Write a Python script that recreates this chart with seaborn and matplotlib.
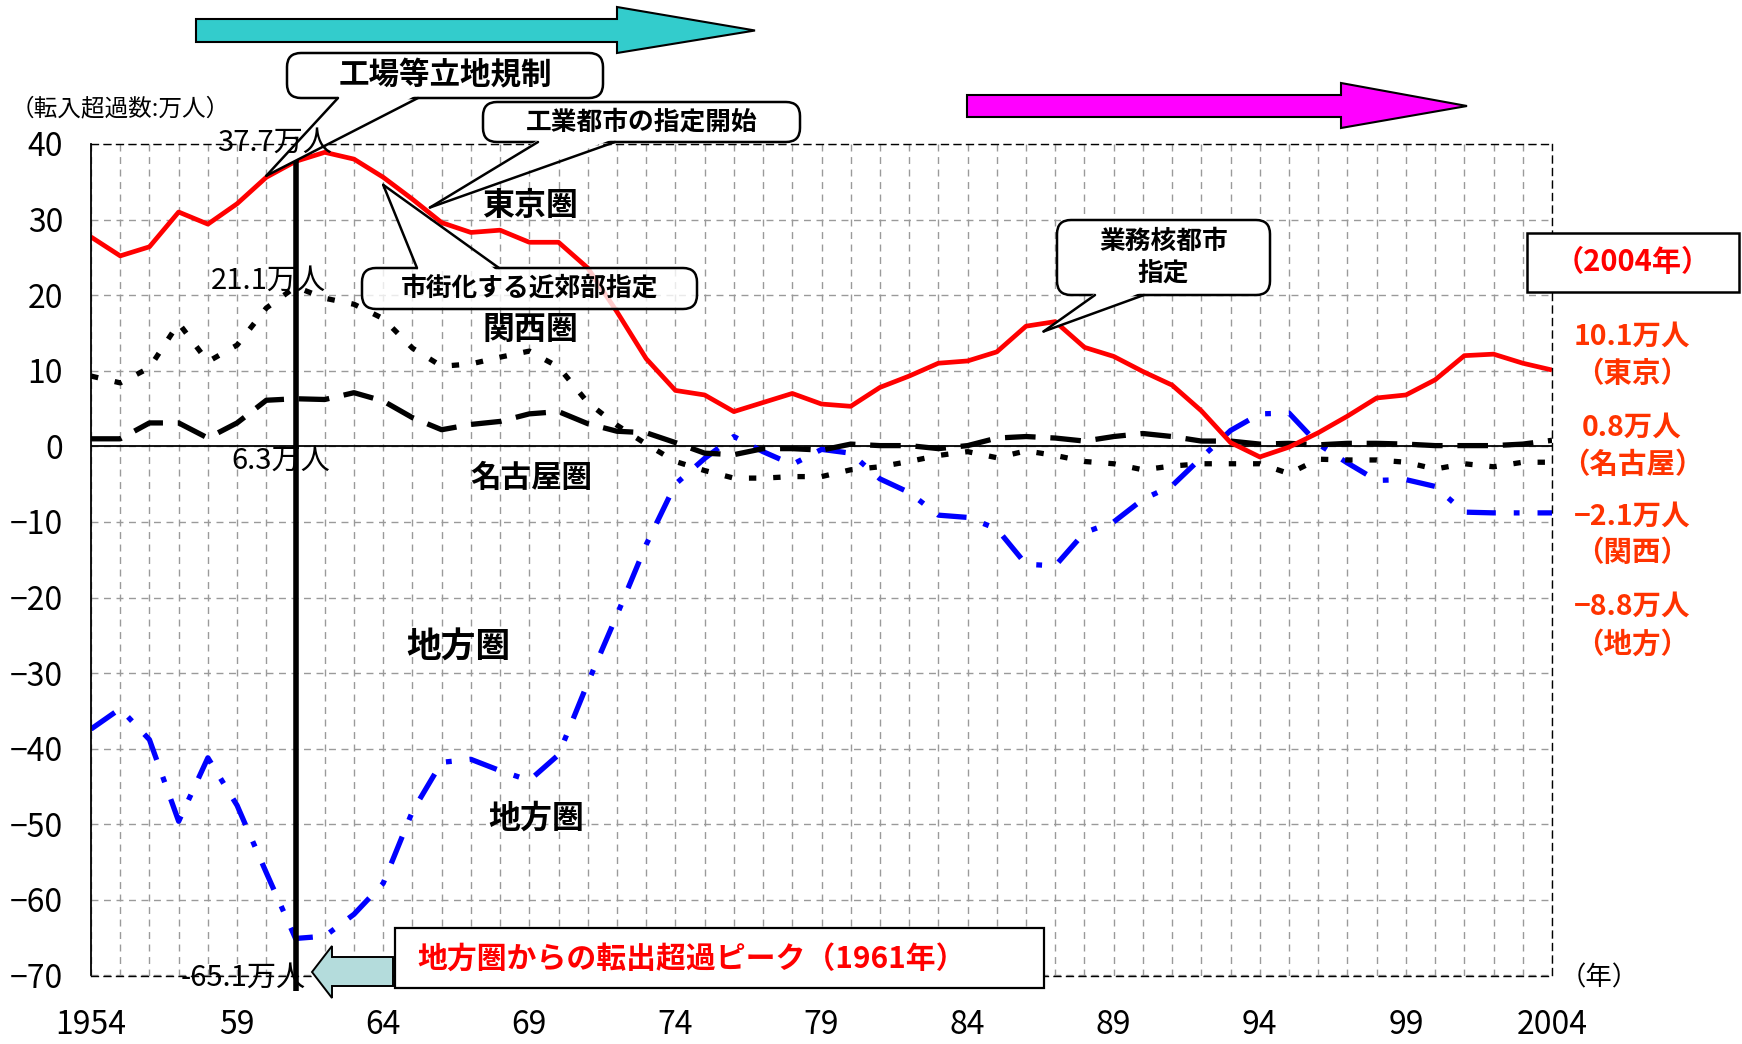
import numpy as np
import pandas as pd
import matplotlib
matplotlib.use("Agg")
import matplotlib.pyplot as plt
import seaborn as sns
from matplotlib.patches import FancyBboxPatch, Polygon, Rectangle
from matplotlib.lines import Line2D

# ---------------- data (万人) ----------------
years = list(range(1954, 2005))
tokyo = [27.7, 25.2, 26.4, 31.0, 29.4, 32.1, 35.6, 37.7, 38.9, 38.0,
         35.6, 32.7, 29.6, 28.3, 28.6, 27.0, 27.0, 23.6, 17.8, 11.6,
         7.4, 6.8, 4.6, 5.8, 7.0, 5.6, 5.3, 7.8, 9.3, 11.0,
         11.3, 12.5, 15.9, 16.5, 13.1, 11.9, 9.9, 8.1, 4.7, 0.5,
         -1.4, -0.1, 1.8, 4.0, 6.4, 6.8, 8.8, 12.0, 12.2, 11.0, 10.1]
kansai = [9.3, 8.4, 10.4, 16.3, 11.2, 13.4, 18.3, 21.1, 19.6, 18.8,
          16.9, 13.0, 10.6, 10.9, 11.8, 12.6, 10.5, 5.8, 2.8, 0.3,
          -2.0, -3.2, -4.2, -4.2, -4.0, -4.0, -3.1, -2.7, -2.0, -1.2,
          -0.7, -1.5, -0.6, -1.2, -2.0, -2.3, -3.1, -2.6, -2.3, -2.3,
          -2.3, -3.6, -1.7, -1.8, -1.8, -2.1, -3.0, -2.3, -2.7, -2.1, -2.1]
nagoya = [1.0, 1.0, 3.1, 3.1, 1.1, 3.1, 6.1, 6.3, 6.2, 7.1,
          6.0, 3.8, 2.2, 2.9, 3.3, 4.3, 4.6, 3.0, 2.0, 1.8,
          0.5, -0.9, -1.1, -0.3, -0.3, -0.5, 0.3, 0.1, 0.1, -0.3,
          0.1, 1.1, 1.3, 1.1, 0.7, 1.3, 1.7, 1.3, 0.7, 0.7,
          0.3, 0.4, 0.2, 0.4, 0.4, 0.3, 0.1, 0.1, 0.1, 0.3, 0.8]
chiho = [-37.4, -34.7, -38.8, -49.6, -41.2, -47.5, -56.4, -65.1, -64.8, -61.9,
         -57.8, -48.3, -41.8, -41.4, -42.9, -44.2, -40.8, -31.3, -22.3, -13.0,
         -5.0, -1.6, 1.3, -0.7, -2.4, -0.4, -0.9, -4.3, -6.1, -9.1,
         -9.4, -10.9, -15.6, -15.8, -11.4, -10.0, -7.0, -5.2, -1.5, 2.1,
         4.3, 4.4, 0.3, -2.2, -4.5, -4.4, -5.3, -8.7, -8.8, -8.8, -8.8]

x_tick_values = [1954, 1959, 1964, 1969, 1974, 1979, 1984, 1989, 1994, 1999, 2004]
x_tick_labels = ["1954", "59", "64", "69", "74", "79", "84", "89", "94", "99", "2004"]
y_tick_values = [40, 30, 20, 10, 0, -10, -20, -30, -40, -50, -60, -70]
y_tick_labels = ["40", "30", "20", "10", "0", "−10", "−20", "−30", "−40", "−50", "−60", "−70"]

df = pd.DataFrame({"year": years, "東京圏": tokyo, "関西圏": kansai,
                   "名古屋圏": nagoya, "地方圏": chiho})

sns.set_theme(style="white")
plt.rcParams["font.family"] = ["Noto Sans CJK JP", "DejaVu Sans"]
plt.rcParams["axes.unicode_minus"] = True

W, H = 1742, 1044
fig = plt.figure(figsize=(W / 100, H / 100), dpi=100)
L, R, T, B = 91, 1552, 144, 975.5
ax = fig.add_axes([L / W, 1 - B / H, (R - L) / W, (B - T) / H])

# grid
ax.set_xlim(1954, 2004)
ax.set_ylim(-70, 40)
ax.set_xticks(x_tick_values)
ax.set_xticks(years, minor=True)
ax.set_yticks(y_tick_values)
ax.grid(True, which="both", axis="x", color="#9a9a9a", lw=1.0, linestyle=(0, (5, 4)))
ax.grid(True, which="major", axis="y", color="#9a9a9a", lw=1.0, linestyle=(0, (5, 4)))
ax.set_axisbelow(True)
ax.axhline(0, color="black", lw=1.3, zorder=1.5)

# series
series = [
    ("地方圏", "#0000FF", 3.8, (5.5, 3.4, 1.1, 3.4)),
    ("関西圏", "black", 3.8, (1.4, 3.2)),
    ("名古屋圏", "black", 3.8, (5.8, 2.8)),
    ("東京圏", "#FF0000", 3.4, None),
]
for name, col, lw, dash in series:
    sns.lineplot(data=df, x="year", y=name, ax=ax, color=col, lw=lw, legend=False)
    ln = ax.lines[-1]
    ln.set_solid_capstyle("butt")
    if dash is not None:
        ln.set_dashes(dash)
        ln.set_dash_capstyle("butt")

# spines
for s in ["top", "right", "bottom"]:
    ax.spines[s].set_linestyle((0, (5, 4)))
    ax.spines[s].set_color("black")
    ax.spines[s].set_linewidth(1.0)
ax.spines["left"].set_color("black")
ax.spines["left"].set_linewidth(1.3)

tick_font = ["Noto Sans CJK JP", "DejaVu Sans"]
ax.set_xticklabels(x_tick_labels, fontsize=23, family=tick_font)
ax.set_yticklabels(y_tick_labels, fontsize=23, family=tick_font)
ax.tick_params(axis="x", which="both", length=0, pad=24, colors="black")
ax.tick_params(axis="y", length=0, pad=20, colors="black")
ax.set_xlabel("")
ax.set_ylabel("")

# ---------------- overlay in pixel coordinates ----------------
ov = fig.add_axes([0, 0, 1, 1], zorder=5)
ov.set_xlim(0, W)
ov.set_ylim(H, 0)
ov.axis("off")


def d2p(x, y):
    dx, dy = ax.transData.transform((x, y))
    return dx, H - dy


def callout(x0, y0, x1, y1, ba, bb, tip, text, size, fc=(1, 1, 1, 1), ty=None):
    box = FancyBboxPatch((x0, y0), x1 - x0, y1 - y0,
                         boxstyle="round,pad=0,rounding_size=14",
                         fc=fc, ec="black", lw=1.8, zorder=3)
    ov.add_patch(box)
    inward = 3 if tip[1] > y1 else -3
    by = ba[1]
    poly = Polygon([(ba[0] + 1.5, by - inward), tip, (bb[0] - 1.5, by - inward)],
                   closed=True, fc="white", ec="none", zorder=3.2)
    ov.add_patch(poly)
    ov.add_line(Line2D([ba[0], tip[0]], [ba[1], tip[1]], color="black", lw=1.8, zorder=3.4))
    ov.add_line(Line2D([bb[0], tip[0]], [bb[1], tip[1]], color="black", lw=1.8, zorder=3.4))
    ov.text((x0 + x1) / 2, (y0 + y1) / 2 if ty is None else ty, text, fontsize=size,
            fontweight="bold", ha="center", va="center", color="black", zorder=3.6,
            linespacing=1.25)


# big arrows at top
cyan = Polygon([(196, 19), (617, 19), (617, 7), (755, 30.5), (617, 53), (617, 42), (196, 42)],
               closed=True, fc="#33CCCC", ec="black", lw=1.5, zorder=2)
ov.add_patch(cyan)
mag = Polygon([(967, 95), (1341, 95), (1341, 83), (1467, 106), (1341, 128), (1341, 117), (967, 117)],
              closed=True, fc="#FF00FF", ec="black", lw=1.5, zorder=2)
ov.add_patch(mag)

# callouts
callout(287, 53, 603, 98, (338, 98), (418, 98), d2p(1960, 35.8), "工場等立地規制", 22)
callout(483, 102, 800, 142, (538, 142), (615, 142), d2p(1965.6, 31.6), "工業都市の指定開始", 18.5)
callout(362, 268, 697, 309, (417, 268), (499, 268), d2p(1964, 34.6), "市街化する近郊部指定", 18.5,
        fc=(1, 1, 1, 0.8))
callout(1057, 220, 1270, 295, (1095, 295), (1144, 295), d2p(1986.6, 15.2), "業務核都市\n指定", 18.5)

# value labels
ov.text(275, 143, "37.7万人", fontsize=21, ha="center", va="center", color="black", zorder=3.3)
ov.text(268, 281, "21.1万人", fontsize=21, ha="center", va="center", color="black", zorder=2)
ov.text(281, 461, "6.3万人", fontsize=21, ha="center", va="center", color="black", zorder=2)
ov.text(243, 978, "-65.1万人", fontsize=21, ha="center", va="center", color="black", zorder=2)

# region labels
for txt, px, py, fs in [("東京圏", 530, 206, 23), ("関西圏", 530, 330, 23),
                        ("名古屋圏", 531, 478, 22), ("地方圏", 458, 647, 25),
                        ("地方圏", 536, 819, 23)]:
    ov.text(px, py, txt, fontsize=fs, fontweight="bold", ha="center", va="center",
            color="black", zorder=2.5)

# vertical marker at 1961
vx, vtop = d2p(1961, 38.9)
_, vbot = d2p(1961, -72.0)
ov.add_line(Line2D([vx, vx], [vtop, vbot], color="black", lw=4.0, zorder=2.8,
                   solid_capstyle="butt"))
gx, gy = d2p(1961, 41.0)
ov.add_line(Line2D([gx, gx], [gy, vtop], color="#999999", lw=2.5, zorder=2.7,
                   linestyle=(0, (1, 1))))

# axis captions
ov.text(11, 109, "（転入超過数:万人）", fontsize=17, ha="left", va="center", color="black")
ov.text(1560, 978, "（年）", fontsize=19, ha="left", va="center", color="black")

# bottom note box and arrow
ov.add_patch(Rectangle((395, 928), 649, 60, fc="white", ec="black", lw=1.6, zorder=3))
ov.text(417, 959, "地方圏からの転出超過ピーク（1961年）", fontsize=21.5, fontweight="bold",
        color="#FF0000", ha="left", va="center", zorder=3.5)
larrow = Polygon([(393, 957), (332, 957), (332, 946), (312, 972), (332, 998), (332, 986), (393, 986)],
                 closed=True, fc="#B4DCDC", ec="black", lw=1.4, zorder=3)
ov.add_patch(larrow)

# 2004 box and labels
ov.add_patch(Rectangle((1527, 233), 212, 59, fc="white", ec="black", lw=1.8, zorder=3))
ov.text(1633, 262, "（2004年）", fontsize=21, fontweight="bold", color="#FF0000",
        ha="center", va="center", zorder=3.5)
side_col = "#FF3300"
for txt, py in [("10.1万人", 337), ("（東京）", 374), ("0.8万人", 428), ("（名古屋）", 465),
                ("−2.1万人", 517), ("（関西）", 553), ("−8.8万人", 607), ("（地方）", 645)]:
    ov.text(1632, py, txt, fontsize=20.5, fontweight="bold", color=side_col,
            ha="center", va="center")

fig.savefig("out.png", dpi=100, facecolor="white")
